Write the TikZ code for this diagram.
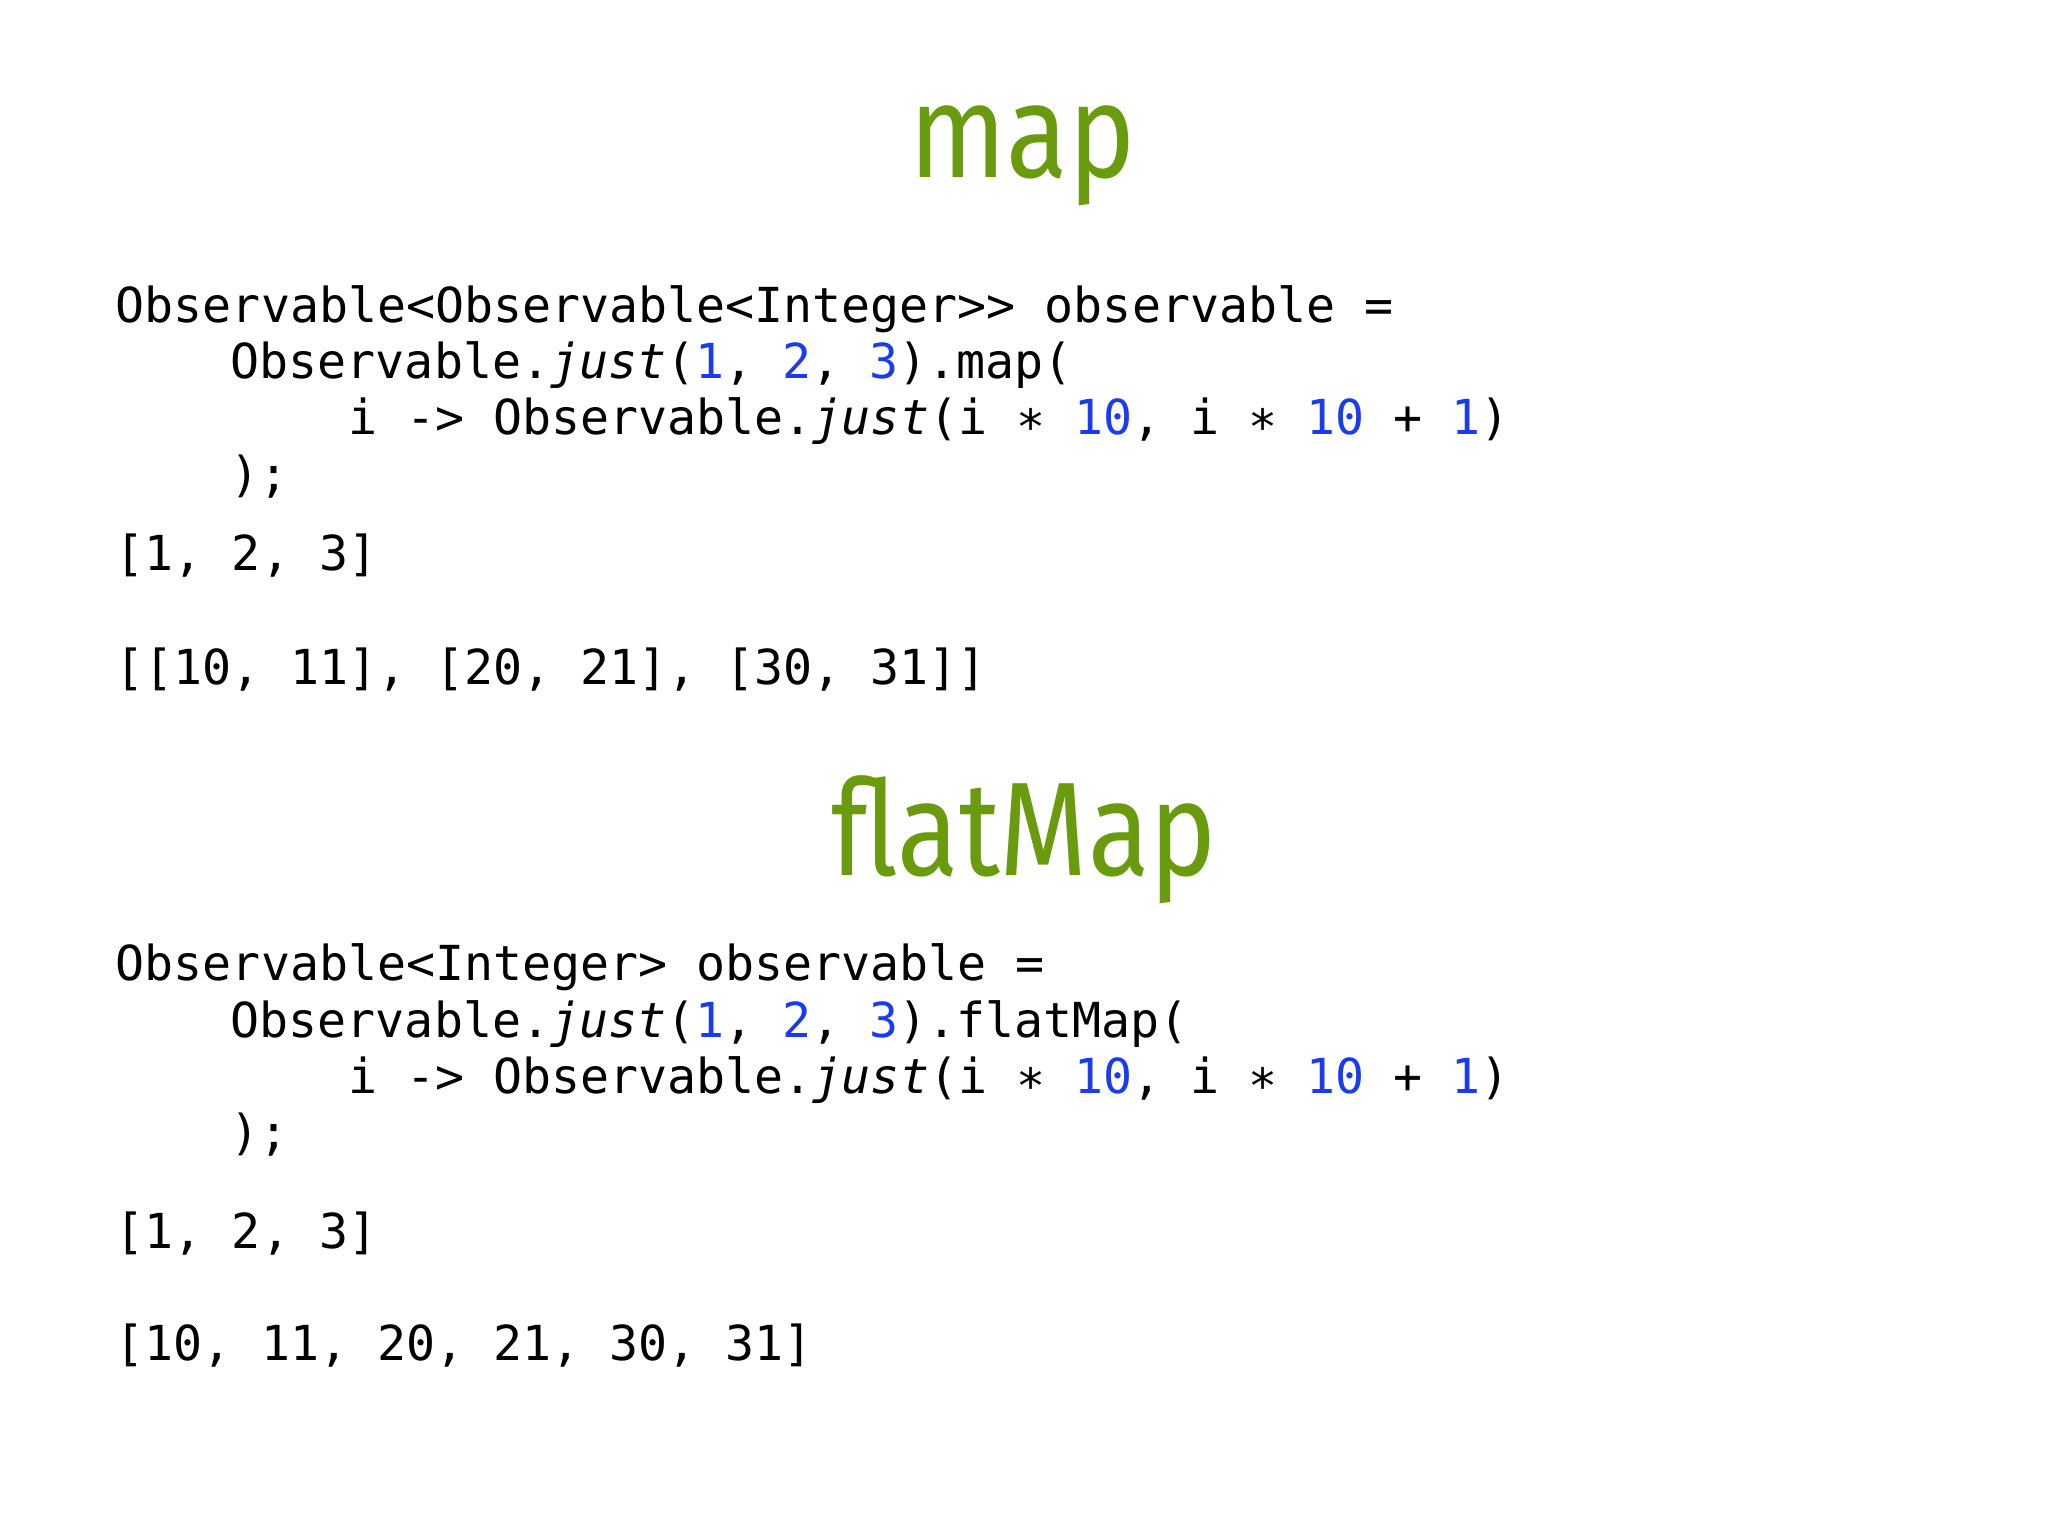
\documentclass[tikz,border=0pt]{standalone}
\usepackage{fontspec}
\setmainfont{Fira Sans}
\setmonofont{DejaVu Sans Mono}
\definecolor{ttl}{HTML}{6A9A0E}
\definecolor{num}{HTML}{1A3CF0}
\newcommand{\nm}[1]{\textcolor{num}{#1}}
\tikzset{code/.style={anchor=base west,inner sep=0,font=\ttfamily\fontsize{10.5}{12}\selectfont},
ttlstyle/.style={anchor=base,inner sep=0,text=ttl,font=\fontsize{29}{32}\selectfont}}
\begin{document}
\begin{tikzpicture}[x=0.01cm,y=-0.01cm]
\useasboundingbox (0,0) rectangle (1568,1176);
\node[ttlstyle] (t1) at (783,136) {\scalebox{0.85}[1]{map}};
\node[code] (a1) at (88,247) {Observable<Observable<Integer>{}> observable =};
\node[code] (a2) at (176,290) {Observable.\textit{just}(\nm{1}, \nm{2}, \nm{3}).map(};
\node[code] (a3) at (266,333) {i -> Observable.\textit{just}(i ∗ \nm{10}, i ∗ \nm{10} + \nm{1})};
\node[code] (a4) at (176,376) {);};
\node[code] (a5) at (88,437) {{[1, 2, 3]}};
\node[code] (a6) at (88,524) {{[[10, 11], [20, 21], [30, 31]]}};
\node[ttlstyle] (t2) at (784,670) {\scalebox{0.85}[1]{flatMap}};
\node[code] (b1) at (88,751) {Observable<Integer> observable =};
\node[code] (b2) at (176,794) {Observable.\textit{just}(\nm{1}, \nm{2}, \nm{3}).flatMap(};
\node[code] (b3) at (266,837) {i -> Observable.\textit{just}(i ∗ \nm{10}, i ∗ \nm{10} + \nm{1})};
\node[code] (b4) at (176,880) {);};
\node[code] (b5) at (88,956) {{[1, 2, 3]}};
\node[code] (b6) at (88,1042) {{[10, 11, 20, 21, 30, 31]}};
\end{tikzpicture}
\end{document}
